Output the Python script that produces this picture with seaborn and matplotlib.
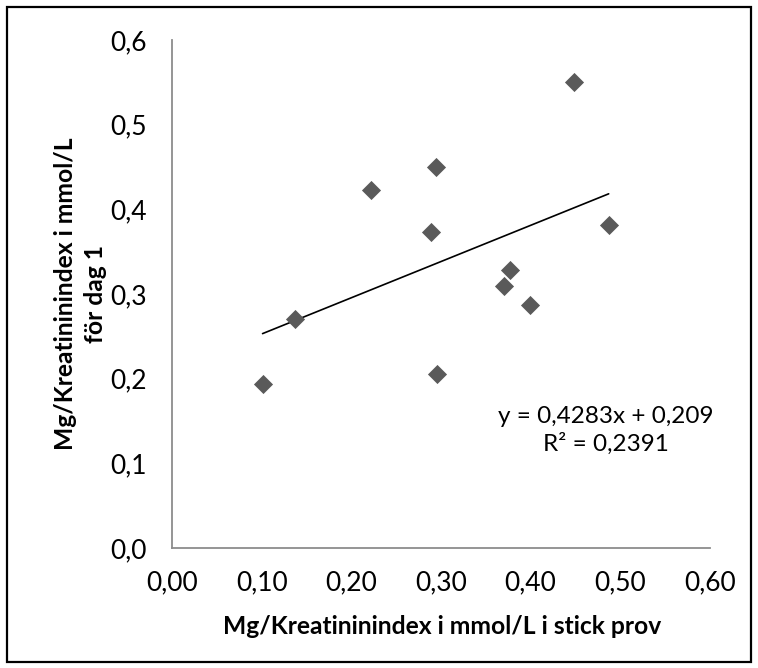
import matplotlib
matplotlib.use("Agg")
import matplotlib.pyplot as plt
from matplotlib.patches import Rectangle
import numpy as np
import pandas as pd
import seaborn as sns

# ---- data ----
x_stick = [0.448, 0.294, 0.222, 0.289, 0.487, 0.377, 0.370, 0.399, 0.137, 0.101, 0.296]
y_dag1 = [0.550, 0.450, 0.423, 0.373, 0.382, 0.328, 0.309, 0.287, 0.271, 0.194, 0.206]

x_ticks = [0.0, 0.1, 0.2, 0.3, 0.4, 0.5, 0.6]
x_tick_labels = ["0,00", "0,10", "0,20", "0,30", "0,40", "0,50", "0,60"]
y_ticks = [0.0, 0.1, 0.2, 0.3, 0.4, 0.5, 0.6]
y_tick_labels = ["0,0", "0,1", "0,2", "0,3", "0,4", "0,5", "0,6"]

x_title = "Mg/Kreatininindex i mmol/L i stick prov"
y_title = "Mg/Kreatininindex i mmol/L\nför dag 1"
equation_text = "y = 0,4283x + 0,209\nR² = 0,2391"

df = pd.DataFrame({"x": x_stick, "y": y_dag1})

sns.set_theme(style="white")
plt.rcParams["font.family"] = ["Lato", "DejaVu Sans"]

W, H = 758, 668
fig = plt.figure(figsize=(W / 100, H / 100), dpi=100)
ax = fig.add_axes([172 / W, 120 / H, (710 - 172) / W, (548 - 40) / H])

sns.scatterplot(data=df, x="x", y="y", marker="D", s=95, color="#5a5a5a",
                linewidth=0, ax=ax, zorder=3)
sns.regplot(data=df, x="x", y="y", scatter=False, ci=None, truncate=True,
            line_kws=dict(color="black", lw=1.2), ax=ax)

ax.set_xlim(0, 0.6)
ax.set_ylim(0, 0.6)
ax.set_xticks(x_ticks)
ax.set_xticklabels(x_tick_labels)
ax.set_yticks(y_ticks)
ax.set_yticklabels(y_tick_labels)
ax.tick_params(axis="both", length=0, labelsize=19, colors="black")
ax.tick_params(axis="x", pad=16)
ax.tick_params(axis="y", pad=18)

sns.despine(ax=ax)
for side in ("left", "bottom"):
    ax.spines[side].set_color("#8c8c8c")
    ax.spines[side].set_linewidth(1.3)

ax.set_xlabel(x_title, fontsize=17.7, fontweight="bold", color="black")
ax.set_ylabel(y_title, fontsize=17.7, fontweight="bold", color="black", linespacing=1.35)
ax.xaxis.set_label_coords(0.503, -0.155)
ax.xaxis.label.set_va("center")
ax.yaxis.set_label_coords(-0.170, 0.5)
ax.yaxis.label.set_va("center")

ax.text(0.4838, 0.139, equation_text, ha="center", va="center",
        multialignment="center", fontsize=17.5, color="black", linespacing=1.35)

fig.patches.append(Rectangle((7 / W, 6 / H), (751 - 7) / W, (661 - 6) / H,
                             transform=fig.transFigure, fill=False,
                             edgecolor="black", linewidth=1.6))

fig.savefig("out.png", dpi=100)
